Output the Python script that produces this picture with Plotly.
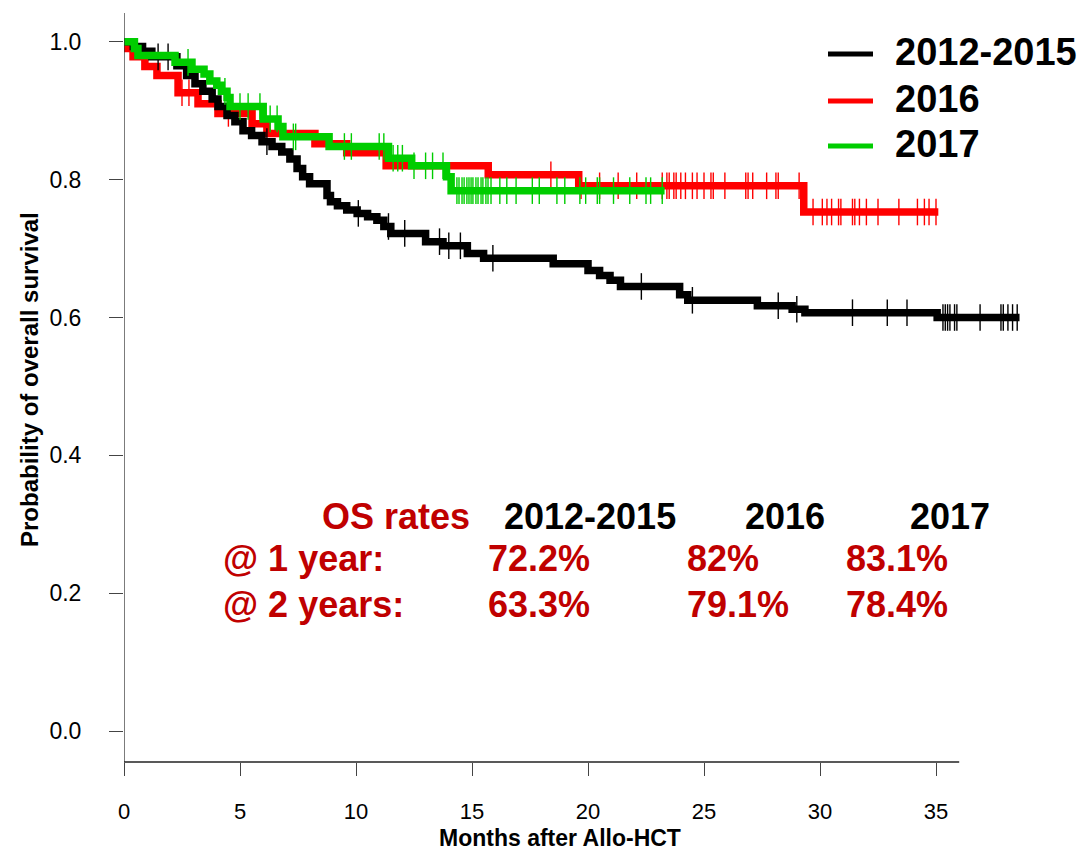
import numpy as np
import plotly.graph_objects as go

# ---- Kaplan-Meier estimates: event times (months) and survival after each step ----
black_times = [0.4, 0.8, 1.2, 2.28, 2.7, 3.06, 3.4, 3.8, 4.05, 4.44, 4.78, 5.13, 5.5, 5.95,
               6.38, 6.8, 7.15, 7.46, 7.7, 8.0, 8.75, 8.9, 9.2, 9.6, 10.05, 10.5, 10.9, 11.2,
               11.5, 13.0, 13.75, 14.8, 15.5, 18.5, 20.0, 20.5, 20.95, 21.4, 23.95, 24.3,
               27.3, 28.8, 29.35, 35.05]
black_surv = [0.993, 0.986, 0.978, 0.965, 0.951, 0.939, 0.928, 0.917, 0.906, 0.893, 0.884,
              0.871, 0.864, 0.855, 0.848, 0.840, 0.830, 0.816, 0.804, 0.794, 0.777, 0.768,
              0.762, 0.756, 0.751, 0.746, 0.741, 0.732, 0.722, 0.710, 0.704, 0.693, 0.686,
              0.678, 0.668, 0.661, 0.654, 0.645, 0.633, 0.625, 0.617, 0.612, 0.607, 0.600]
black_end = 38.6
black_censor = [1.47, 1.9, 6.16, 10.1, 11.4, 12.1, 13.6, 14.0, 14.5, 15.9, 22.3, 24.5, 28.2,
                29.0, 31.4, 32.9, 33.75, 35.3, 35.4, 35.5, 35.6, 35.8, 35.9, 36.9, 37.8,
                37.9, 38.1, 38.3, 38.5]

red_times = [0.13, 0.39, 0.9, 1.42, 2.33, 3.19, 4.05, 5.52, 6.16, 8.23, 9.6, 11.3, 15.7,
             19.6, 29.3]
red_surv = [0.990, 0.978, 0.964, 0.951, 0.926, 0.910, 0.896, 0.881, 0.867, 0.852, 0.839,
            0.820, 0.807, 0.791, 0.753]
red_end = 35.1
red_censor = [2.5, 2.8, 4.5, 18.4, 19.7, 20.5, 21.3, 22.1, 23.2, 23.4, 23.5, 23.7, 23.8,
              24.0, 24.2, 24.5, 24.7, 25.0, 25.3, 25.4, 25.9, 26.8, 26.9, 27.1, 27.7, 28.1,
              28.2, 29.1, 29.7, 30.1, 30.3, 30.5, 30.8, 30.9, 31.4, 31.5, 31.7, 32.0, 32.5,
              33.4, 34.2, 34.5, 34.7, 35.0]

green_times = [0.45, 0.6, 2.2, 2.93, 3.45, 3.7, 4.0, 4.2, 4.44, 4.57, 6.0, 6.64, 6.85, 8.84,
               11.4, 12.4, 13.9, 14.1]
green_surv = [0.990, 0.980, 0.970, 0.960, 0.953, 0.943, 0.937, 0.928, 0.919, 0.906, 0.888,
              0.877, 0.862, 0.848, 0.831, 0.820, 0.804, 0.784]
green_end = 23.3
green_censor = [2.76, 4.35, 5.0, 5.35, 5.86, 6.3, 6.6, 7.3, 7.4, 9.5, 9.8, 11.0, 11.2, 11.6,
                11.8, 12.0, 12.5, 13.0, 13.3, 13.75, 14.35, 14.44, 14.57, 14.66, 14.78,
                14.87, 14.96, 15.04, 15.17, 15.26, 15.39, 15.47, 15.6, 15.69, 15.82, 16.2,
                16.5, 16.9, 17.6, 17.9, 18.66, 19.0, 19.65, 19.9, 20.4, 20.5, 21.1, 21.8,
                22.5, 22.7, 23.2]

group_names = ["2012-2015", "2016", "2017"]
group_colors = ["#000000", "#FF0000", "#00CD00"]

# ---- OS rate table ----
table_header = ["OS rates", "2012-2015", "2016", "2017"]
row_labels = ["@ 1 year:", "@ 2 years:"]
rates_1yr = ["72.2%", "82%", "83.1%"]
rates_2yr = ["63.3%", "79.1%", "78.4%"]

x_ticks = [0, 5, 10, 15, 20, 25, 30, 35]
y_ticks = [0.0, 0.2, 0.4, 0.6, 0.8, 1.0]

FONT = "Liberation Sans, Arial, sans-serif"
W, H = 1089, 853
ML, MR, MT, MB = 124, 14, 13, 91
PW, PH = W - ML - MR, H - MT - MB


def px(x):
    return (x - ML) / PW


def py(y):
    return 1 - (y - MT) / PH


def surv_at(times, surv, t):
    idx = np.searchsorted(np.asarray(times), np.asarray(t), side="right") - 1
    vals = np.where(idx >= 0, np.asarray(surv)[np.clip(idx, 0, None)], 1.0)
    return vals


fig = go.Figure()

groups = [
    (black_times, black_surv, black_end, black_censor),
    (red_times, red_surv, red_end, red_censor),
    (green_times, green_surv, green_end, green_censor),
]
draw_order = [1, 0, 2]
for gi in draw_order:
    times, surv, end, cens = groups[gi]
    xs = [0.0] + list(times) + [end]
    ys = [1.0] + list(surv) + [surv[-1]]
    fig.add_trace(go.Scatter(
        x=xs, y=ys, mode="lines", line=dict(shape="hv", color=group_colors[gi], width=7.5),
        name=group_names[gi], hoverinfo="skip"))
    fig.add_trace(go.Scatter(
        x=cens, y=surv_at(times, surv, cens), mode="markers",
        marker=dict(symbol="line-ns", size=19,
                    line=dict(color=group_colors[gi], width=1.4)),
        showlegend=False, hoverinfo="skip"))

shapes = [
    # left axis line
    dict(type="line", xref="x", yref="paper", x0=0, x1=0, y0=0, y1=1,
         line=dict(color="#333333", width=1.3)),
    # bottom axis line
    dict(type="line", xref="x", yref="paper", x0=0, x1=36.0, y0=0, y1=0,
         line=dict(color="#222222", width=1.3)),
]

annotations = []
# legend
legend_y = [52, 99, 144]
for name, col, ly in zip(group_names, group_colors, legend_y):
    shapes.append(dict(type="line", xref="paper", yref="paper",
                       x0=px(828), x1=px(873), y0=py(ly + 2), y1=py(ly + 2),
                       line=dict(color=col, width=5)))
    annotations.append(dict(xref="paper", yref="paper", x=px(893), y=py(ly),
                            xanchor="left", yanchor="middle", showarrow=False,
                            text="<b>%s</b>" % name,
                            font=dict(family=FONT, size=38, color="#000000")))

# rate table
dark_red = "#C00000"
hdr_x = [320, 502, 743, 908]
hdr_col = [dark_red, "#000000", "#000000", "#000000"]
for txt, x, c in zip(table_header, hdr_x, hdr_col):
    annotations.append(dict(xref="paper", yref="paper", x=px(x), y=py(516),
                            xanchor="left", yanchor="middle", showarrow=False,
                            text="<b>%s</b>" % txt,
                            font=dict(family=FONT, size=36, color=c)))
val_x = [486, 685, 844]
for lbl, vals, yy in zip(row_labels, [rates_1yr, rates_2yr], [558, 604]):
    annotations.append(dict(xref="paper", yref="paper", x=px(221), y=py(yy),
                            xanchor="left", yanchor="middle", showarrow=False,
                            text="<b>%s</b>" % lbl,
                            font=dict(family=FONT, size=36, color=dark_red)))
    for v, x in zip(vals, val_x):
        annotations.append(dict(xref="paper", yref="paper", x=px(x), y=py(yy),
                                xanchor="left", yanchor="middle", showarrow=False,
                                text="<b>%s</b>" % v,
                                font=dict(family=FONT, size=36, color=dark_red)))

# axis titles
annotations.append(dict(xref="paper", yref="paper", x=px(560), y=py(838),
                        xanchor="center", yanchor="middle", showarrow=False,
                        text="<b>Months after Allo-HCT</b>",
                        font=dict(family=FONT, size=23, color="#000000")))
annotations.append(dict(xref="paper", yref="paper", x=px(29), y=py(380),
                        xanchor="center", yanchor="middle", showarrow=False,
                        textangle=-90,
                        text="<b>Probability of overall survival</b>",
                        font=dict(family=FONT, size=24, color="#000000")))

fig.update_layout(
    width=W, height=H,
    margin=dict(l=ML, r=MR, t=MT, b=MB, pad=0),
    plot_bgcolor="white", paper_bgcolor="white",
    showlegend=False,
    shapes=shapes, annotations=annotations,
    font=dict(family=FONT, color="#000000"),
)
fig.update_xaxes(range=[0, PW / 23.2], tickvals=x_ticks, ticktext=[str(t) for t in x_ticks],
                 ticks="outside", ticklen=13, tickwidth=1.2, tickcolor="#444444",
                 showline=False, showgrid=False, zeroline=False,
                 tickfont=dict(family=FONT, size=22, color="#000000"),
                 ticklabelstandoff=17)
fig.update_yaxes(range=[-0.0446, 1.0416], tickvals=y_ticks,
                 ticktext=["%.1f" % t for t in y_ticks],
                 ticks="outside", ticklen=14, tickwidth=1.2, tickcolor="#444444",
                 showline=False, showgrid=False, zeroline=False,
                 tickfont=dict(family=FONT, size=23, color="#000000"),
                 ticklabelstandoff=23)

fig.write_html("out.html")
